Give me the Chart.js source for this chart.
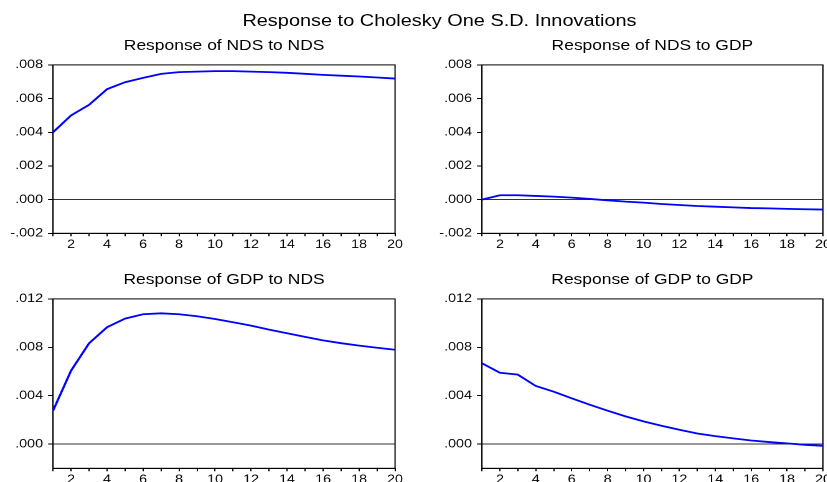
<!DOCTYPE html>
<html>
<head>
<meta charset="utf-8">
<script src="https://cdn.jsdelivr.net/npm/chart.js@4.4.0/dist/chart.umd.min.js"></script>
<style>
  html, body { margin: 0; padding: 0; background: #fff; }
  body { width: 827px; height: 482px; overflow: hidden; position: relative; }
  #fig { position: absolute; left: 0; top: 0; width: 664px; height: 482px;
         transform: scaleX(1.245); transform-origin: 0 0; }
  .ttl { position: absolute; text-align: center; color: #000; white-space: nowrap;
         font-family: "Liberation Sans", Arial, sans-serif; }
  .main { font-size: 16px; line-height: 16px; }
  .sub { font-size: 14px; line-height: 14px; }
  canvas { position: absolute; }
</style>
</head>
<body>
<div id="fig">
  <div class="ttl main" style="left:153px; width:400px; top:13px;">Response to Cholesky One S.D. Innovations</div>
  <div class="ttl sub" style="left:30px; width:300px; top:37.5px;">Response of NDS to NDS</div>
  <div class="ttl sub" style="left:374px; width:300px; top:37.5px;">Response of NDS to GDP</div>
  <div class="ttl sub" style="left:30px; width:300px; top:272px;">Response of GDP to NDS</div>
  <div class="ttl sub" style="left:374px; width:300px; top:272px;">Response of GDP to GDP</div>
  <canvas id="c1" width="330" height="200" style="left:0px; top:54px; width:330px; height:200px;"></canvas>
  <canvas id="c2" width="330" height="200" style="left:345px; top:54px; width:330px; height:200px;"></canvas>
  <canvas id="c3" width="330" height="200" style="left:0px; top:288px; width:330px; height:200px;"></canvas>
  <canvas id="c4" width="330" height="200" style="left:345px; top:288px; width:330px; height:200px;"></canvas>
</div>
<script>
// Forecast horizon (periods after the shock)
const periods = [1,2,3,4,5,6,7,8,9,10,11,12,13,14,15,16,17,18,19,20];

// Impulse responses
const ndsToNds = [0.0040,0.0050,0.00563,0.00656,0.00697,0.00723,0.00747,0.00757,0.0076,0.00763,
                  0.00763,0.0076,0.00757,0.00753,0.00747,0.00741,0.00736,0.00731,0.00725,0.00719];
const ndsToGdp = [0,0.00026,0.00026,0.00022,0.00018,0.00012,0.00004,-0.00004,-0.00012,-0.00018,
                  -0.00026,-0.00032,-0.00038,-0.00042,-0.00046,-0.0005,-0.00052,-0.00055,-0.00057,-0.00059];
const gdpToNds = [0.00276,0.00607,0.00833,0.00966,0.01037,0.01073,0.01081,0.01073,0.01057,0.01034,
                  0.01007,0.00979,0.00946,0.00916,0.00886,0.00857,0.00834,0.00814,0.00796,0.0078];
const gdpToGdp = [0.00668,0.0059,0.00574,0.0048,0.00433,0.00378,0.00326,0.00276,0.00229,0.00188,
                  0.00152,0.00119,0.00088,0.00066,0.00047,0.0003,0.00017,0.00006,-0.00006,-0.00014];

// Value-axis ticks for each row of panels
const topTicks = [-0.002, 0, 0.002, 0.004, 0.006, 0.008];
const bottomTicks = [0, 0.004, 0.008, 0.012];

const FONT = { family: '"Liberation Sans", Arial, sans-serif', size: 11.5 };

function fmt(v) {
  const s = Math.abs(v) < 1e-12 ? '0.000' : v.toFixed(3);
  return s.replace(/^(-?)0\./, '$1.');
}

// Box around the plotting area
const frame = {
  id: 'frame',
  beforeDatasetsDraw(chart) {
    const a = chart.chartArea, ctx = chart.ctx;
    ctx.save();
    ctx.strokeStyle = '#000';
    ctx.lineWidth = 1;
    ctx.strokeRect(a.left, a.top, a.right - a.left, a.bottom - a.top);
    ctx.restore();
  }
};

function panel(id, data, ticks, yMin, yMax, axisW, padRight, xAxisH) {
  return new Chart(document.getElementById(id), {
    type: 'line',
    data: {
      labels: periods,
      datasets: [{
        data: data,
        borderColor: '#0000ff',
        borderWidth: 1.8,
        pointRadius: 0,
        tension: 0,
        fill: false
      }]
    },
    options: {
      responsive: false,
      animation: false,
      devicePixelRatio: 2,
      layout: { padding: { top: 10, right: padRight, left: 0, bottom: 0 } },
      plugins: { legend: { display: false }, tooltip: { enabled: false } },
      scales: {
        x: {
          type: 'category',
          offset: false,
          border: { display: true, color: '#000', width: 1 },
          grid: { drawOnChartArea: false, drawTicks: true, tickLength: 3, tickColor: '#000' },
          ticks: {
            autoSkip: false, maxRotation: 0, padding: 1.5, color: '#000', font: FONT,
            callback: (v, i) => (periods[i] % 2 === 0 ? String(periods[i]) : '')
          },
          afterFit: s => { s.height = xAxisH; }
        },
        y: {
          type: 'linear',
          min: yMin, max: yMax,
          border: { display: true, color: '#000', width: 1 },
          grid: {
            drawTicks: true, tickLength: 4, tickColor: '#000', lineWidth: 1,
            color: c => (c.tick && Math.abs(c.tick.value) < 1e-12 ? '#333' : 'rgba(0,0,0,0)')
          },
          ticks: { padding: 4, color: '#000', font: FONT, callback: v => fmt(v) },
          afterBuildTicks: s => { s.ticks = ticks.map(v => ({ value: v })); },
          afterFit: s => { s.width = axisW; }
        }
      }
    },
    plugins: [frame]
  });
}

panel('c1', ndsToNds, topTicks, -0.002, 0.008, 42.6, 12.7, 20.7);
panel('c2', ndsToGdp, topTicks, -0.002, 0.008, 42.1, 14, 20.7);
panel('c3', gdpToNds, bottomTicks, -0.002, 0.012, 42.6, 12.7, 19.7);
panel('c4', gdpToGdp, bottomTicks, -0.002, 0.012, 42.1, 14, 19.7);
</script>
</body>
</html>
